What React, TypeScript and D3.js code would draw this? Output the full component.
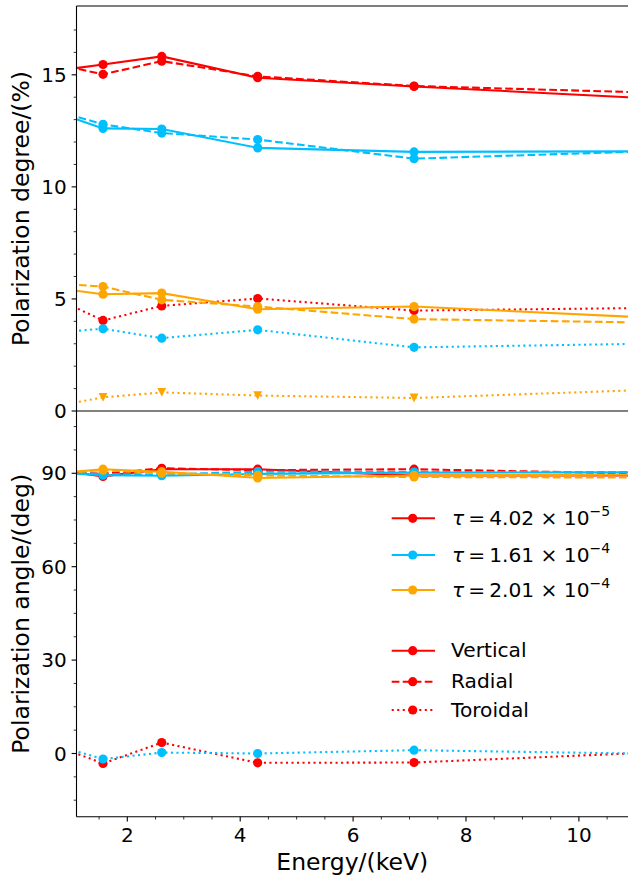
import React from "react";
import * as d3 from "d3";

// ---------- data ----------
const energy = [0.95, 1.57, 2.61, 4.31, 7.08, 11.65];
const tauLabels = ["4.02", "1.61", "2.01"];
const tauExps = ["\u22125", "\u22124", "\u22124"];
const modelLabels = ["Vertical", "Radial", "Toroidal"];

// Polarization degree (%)
const pdVerticalT1 = [15.25, 15.46, 15.82, 14.87, 14.48, 13.9];
const pdRadialT1 = [15.36, 15.02, 15.61, 14.93, 14.5, 14.18];
const pdToroidalT1 = [4.77, 4.04, 4.69, 5.02, 4.48, 4.61];
const pdVerticalT2 = [13.14, 12.61, 12.58, 11.74, 11.56, 11.59];
const pdRadialT2 = [13.24, 12.79, 12.4, 12.11, 11.26, 11.62];
const pdToroidalT2 = [3.55, 3.67, 3.25, 3.62, 2.84, 3.02];
const pdVerticalT3 = [5.41, 5.21, 5.26, 4.54, 4.66, 4.12];
const pdRadialT3 = [5.66, 5.55, 4.96, 4.66, 4.1, 3.93];
const pdToroidalT3 = [0.32, 0.61, 0.83, 0.69, 0.58, 0.98];

// Polarization angle (deg)
const paVerticalT1 = [90.5, 89.0, 91.3, 91.3, 89.3, 89.3];
const paRadialT1 = [90.3, 89.8, 91.6, 91.0, 91.3, 89.7];
const paToroidalT1 = [1.0, -3.2, 3.5, -3.0, -2.9, 0.58];
const paVerticalT2 = [90.0, 89.4, 89.2, 89.8, 90.2, 90.3];
const paRadialT2 = [90.3, 89.7, 89.6, 90.5, 90.4, 90.4];
const paToroidalT2 = [1.5, -1.8, 0.3, 0.0, 1.06, -0.2];
const paVerticalT3 = [90.3, 91.3, 90.5, 88.5, 89.3, 89.6];
const paRadialT3 = [90.2, 91.0, 90.0, 89.3, 88.8, 88.6];

const xMajor = [2, 4, 6, 8, 10];
const yTopMajor = [0, 5, 10, 15];
const yBotMajor = [0, 30, 60, 90];

// ---------- layout ----------
const W = 628;
const H = 877;
const LEFT = 76.5;
const RIGHT = 628;
const TOP = 6;
const MID = 411;
const BOTTOM = 816.7;

const colors = ["#ff0000", "#00bfff", "#ffa500"];
const lw = 2.08;
const MR = 4.6;
const dashes: Record<string, string | undefined> = {
  solid: undefined,
  dashed: `${3.7 * lw},${1.6 * lw}`,
  dotted: `${1 * lw},${1.65 * lw}`,
};
const FONT = "DejaVu Sans";

type Series = { values: number[]; color: string; style: string; marker: string };

const topSeries: Series[] = [
  { values: pdVerticalT1, color: colors[0], style: "solid", marker: "o" },
  { values: pdRadialT1, color: colors[0], style: "dashed", marker: "o" },
  { values: pdToroidalT1, color: colors[0], style: "dotted", marker: "o" },
  { values: pdVerticalT2, color: colors[1], style: "solid", marker: "o" },
  { values: pdRadialT2, color: colors[1], style: "dashed", marker: "o" },
  { values: pdToroidalT2, color: colors[1], style: "dotted", marker: "o" },
  { values: pdVerticalT3, color: colors[2], style: "solid", marker: "o" },
  { values: pdRadialT3, color: colors[2], style: "dashed", marker: "o" },
  { values: pdToroidalT3, color: colors[2], style: "dotted", marker: "v" },
];
const botSeries: Series[] = [
  { values: paVerticalT1, color: colors[0], style: "solid", marker: "o" },
  { values: paRadialT1, color: colors[0], style: "dashed", marker: "o" },
  { values: paToroidalT1, color: colors[0], style: "dotted", marker: "o" },
  { values: paVerticalT2, color: colors[1], style: "solid", marker: "o" },
  { values: paRadialT2, color: colors[1], style: "dashed", marker: "o" },
  { values: paToroidalT2, color: colors[1], style: "dotted", marker: "o" },
  { values: paVerticalT3, color: colors[2], style: "solid", marker: "o" },
  { values: paRadialT3, color: colors[2], style: "dashed", marker: "o" },
];

const xScale = d3.scaleLinear().domain([1.1, 10.87]).range([LEFT, RIGHT]);
const yTop = d3.scaleLinear().domain([0, 18.07]).range([MID, TOP]);
const yBot = d3.scaleLinear().domain([-20.3, 110]).range([BOTTOM, MID]);

function Marker({ x, y, color, kind }: { x: number; y: number; color: string; kind: string }) {
  if (kind === "v") {
    const s = 4.4;
    return <path d={`M${x},${y + s}L${x - s},${y - s}L${x + s},${y - s}Z`} fill={color} />;
  }
  return <circle cx={x} cy={y} r={MR} fill={color} />;
}

function Panel({ series, y, clipId }: { series: Series[]; y: d3.ScaleLinear<number, number>; clipId: string }) {
  const line = d3
    .line<number>()
    .x((_, i) => xScale(energy[i]))
    .y((v) => y(v));
  return (
    <g clipPath={`url(#${clipId})`}>
      {series.map((s, k) => (
        <g key={k}>
          <path d={line(s.values) || ""} fill="none" stroke={s.color} strokeWidth={lw} strokeDasharray={dashes[s.style]} />
          {s.values.map((v, i) => (
            <Marker key={i} x={xScale(energy[i])} y={y(v)} color={s.color} kind={s.marker} />
          ))}
        </g>
      ))}
    </g>
  );
}

function range(a: number, b: number, step: number) {
  const out: number[] = [];
  for (let v = a; v <= b + 1e-9; v += step) out.push(Math.round(v * 1000) / 1000);
  return out;
}

export default function App() {
  const xMinor = range(1.5, 10.5, 0.5).filter((v) => !xMajor.includes(v));
  const yTopMinor = range(1, 17, 1).filter((v) => !yTopMajor.includes(v));
  const yBotMinor = range(-15, 105, 7.5).filter((v) => !yBotMajor.includes(v));
  const tickFont = 20;
  const labelFont = 23.5;
  const legFont = 20.2;

  const legendTau = [518.3, 555, 590];
  const legendModel = [650.7, 681.7, 710];
  const hx0 = 391.7;
  const hx1 = 435;
  const hxm = 412.7;
  const tx = 452;

  return (
    <svg width={W} height={H} style={{ position: "absolute", left: 0, top: 0, background: "#fff" }} fontFamily={FONT}>
      <defs>
        <clipPath id="clipTop">
          <rect x={LEFT} y={TOP} width={RIGHT - LEFT} height={MID - TOP} />
        </clipPath>
        <clipPath id="clipBot">
          <rect x={LEFT} y={MID} width={RIGHT - LEFT} height={BOTTOM - MID} />
        </clipPath>
      </defs>
      <rect x={0} y={0} width={W} height={H} fill="#fff" />

      {/* zero line in top panel */}
      <line x1={LEFT} x2={RIGHT} y1={yTop(0)} y2={yTop(0)} stroke="#808080" strokeWidth={2.1} />

      <Panel series={topSeries} y={yTop} clipId="clipTop" />
      <Panel series={botSeries} y={yBot} clipId="clipBot" />

      {/* spines */}
      <line x1={LEFT} x2={LEFT} y1={TOP} y2={BOTTOM} stroke="#000" strokeWidth={1.1} />
      <line x1={LEFT} x2={RIGHT} y1={TOP} y2={TOP} stroke="#000" strokeWidth={1.1} />
      <line x1={LEFT} x2={RIGHT} y1={BOTTOM} y2={BOTTOM} stroke="#000" strokeWidth={1.1} />

      {/* top y ticks */}
      {yTopMajor.map((v) => (
        <g key={"tm" + v}>
          <line x1={LEFT - 4.9} x2={LEFT} y1={yTop(v)} y2={yTop(v)} stroke="#000" strokeWidth={1.1} />
          <text x={LEFT - 9.8} y={yTop(v)} dy="0.36em" textAnchor="end" fontSize={tickFont}>
            {v}
          </text>
        </g>
      ))}
      {yTopMinor.map((v) => (
        <line key={"tn" + v} x1={LEFT - 2.8} x2={LEFT} y1={yTop(v)} y2={yTop(v)} stroke="#000" strokeWidth={0.8} />
      ))}

      {/* bottom y ticks */}
      {yBotMajor.map((v) => (
        <g key={"bm" + v}>
          <line x1={LEFT - 4.9} x2={LEFT} y1={yBot(v)} y2={yBot(v)} stroke="#000" strokeWidth={1.1} />
          <text x={LEFT - 9.8} y={yBot(v)} dy="0.36em" textAnchor="end" fontSize={tickFont}>
            {v}
          </text>
        </g>
      ))}
      {yBotMinor.map((v) => (
        <line key={"bn" + v} x1={LEFT - 2.8} x2={LEFT} y1={yBot(v)} y2={yBot(v)} stroke="#000" strokeWidth={0.8} />
      ))}

      {/* x ticks */}
      {xMajor.map((v) => (
        <g key={"xm" + v}>
          <line x1={xScale(v)} x2={xScale(v)} y1={BOTTOM} y2={BOTTOM + 4.9} stroke="#000" strokeWidth={1.1} />
          <text x={xScale(v)} y={842} textAnchor="middle" fontSize={tickFont}>
            {v}
          </text>
        </g>
      ))}
      {xMinor.map((v) => (
        <line key={"xn" + v} x1={xScale(v)} x2={xScale(v)} y1={BOTTOM} y2={BOTTOM + 2.8} stroke="#000" strokeWidth={0.8} />
      ))}

      {/* axis labels */}
      <text x={(LEFT + RIGHT) / 2} y={869.5} textAnchor="middle" fontSize={labelFont}>
        Energy/(keV)
      </text>
      <text transform={`translate(29,${(TOP + MID) / 2}) rotate(-90)`} textAnchor="middle" fontSize={labelFont}>
        Polarization degree/(%)
      </text>
      <text transform={`translate(29,${(MID + BOTTOM) / 2}) rotate(-90)`} textAnchor="middle" fontSize={labelFont}>
        Polarization angle/(deg)
      </text>

      {/* legend: tau */}
      {tauLabels.map((t, i) => (
        <g key={"lt" + i}>
          <line x1={hx0} x2={hx1} y1={legendTau[i]} y2={legendTau[i]} stroke={colors[i]} strokeWidth={lw} />
          <circle cx={hxm} cy={legendTau[i]} r={MR} fill={colors[i]} />
          <text x={tx} y={legendTau[i] + 7} fontSize={legFont}>
            <tspan fontStyle="italic">τ</tspan>
            <tspan>{`\u2009=\u20094.02`.replace("4.02", t)}</tspan>
            <tspan>{" × 10"}</tspan>
            <tspan fontSize={14} dy={-9}>
              {tauExps[i]}
            </tspan>
          </text>
        </g>
      ))}
      {/* legend: model */}
      {modelLabels.map((m, i) => (
        <g key={"lm" + i}>
          <line
            x1={hx0}
            x2={hx1}
            y1={legendModel[i]}
            y2={legendModel[i]}
            stroke={colors[0]}
            strokeWidth={lw}
            strokeDasharray={dashes[["solid", "dashed", "dotted"][i]]}
          />
          <circle cx={hxm} cy={legendModel[i]} r={MR} fill={colors[0]} />
          <text x={tx - 1} y={legendModel[i] + 6.5} fontSize={legFont}>
            {m}
          </text>
        </g>
      ))}
    </svg>
  );
}
